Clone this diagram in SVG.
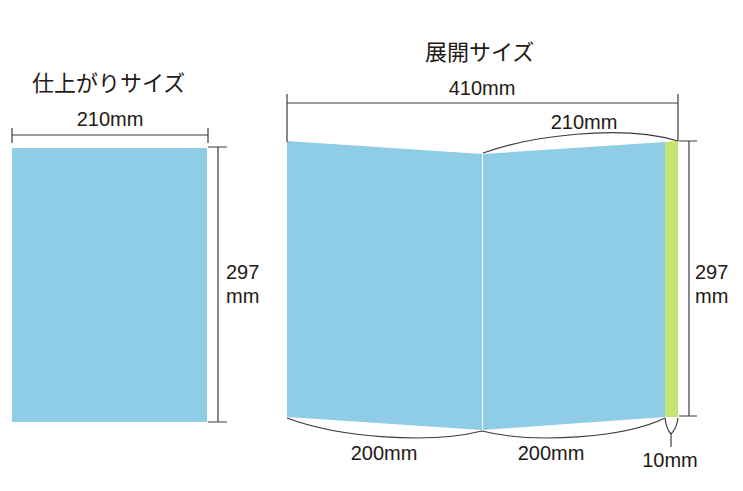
<svg xmlns="http://www.w3.org/2000/svg" width="743" height="491" viewBox="0 0 743 491">
<style>
.t{font-family:"Liberation Sans",Arial,sans-serif;font-size:20px;fill:#231815}
.j{font-family:"Noto Sans CJK JP",sans-serif;font-size:22px;fill:#231815}
.ln{stroke:#3e3a39;stroke-width:1.2;fill:none}
.blue{fill:#8fcde6}
.green{fill:#c3e673}
</style>
<rect width="743" height="491" fill="#fff"/>
<g id="finished">
<text class="j" x="32" y="91">仕上がりサイズ</text>
<rect class="blue" x="12" y="148" width="195" height="274"/>
</g>
<g id="spread">
<text class="j" x="425" y="60">展開サイズ</text>
<polygon id="left-page" class="blue" points="287,141 482,154 482,430 287,417"/>
<polygon id="right-page" class="blue" points="483,154 665,142 665,417 483,430"/>
<polygon id="spine" class="green" points="665,142 678,141 678,417 665,417"/>
</g>
<g id="connectors">
<path class="ln" d="M12,135H208M12,128V143M208,128V143"/>
<path class="ln" d="M208,147H227M208,422H227M218,147V422"/>
<path class="ln" d="M287,103H678M287,94V142M678,94V141"/>
<path class="ln" d="M483,153C530,136 620,124 678,141"/>
<path class="ln" d="M679,141H697M679,416H697M689,141V416"/>
<path class="ln" d="M287,418C340,438 430,444 482,431C534,444 624,438 665,418"/>
<path class="ln" d="M665,418C666,426 668,431 671,434C674,431 677,426 678,418M671,434V447"/>
</g>
<g id="labels">
<text class="t" x="110" y="126" text-anchor="middle">210mm</text>
<text class="t" x="226" y="279">297</text>
<text class="t" x="226" y="303">mm</text>
<text class="t" x="482" y="95" text-anchor="middle">410mm</text>
<text class="t" x="584" y="129" text-anchor="middle">210mm</text>
<text class="t" x="695" y="279">297</text>
<text class="t" x="695" y="303">mm</text>
<text class="t" x="384" y="460" text-anchor="middle">200mm</text>
<text class="t" x="551" y="460" text-anchor="middle">200mm</text>
<text class="t" x="670" y="467" text-anchor="middle">10mm</text>
</g>
</svg>
